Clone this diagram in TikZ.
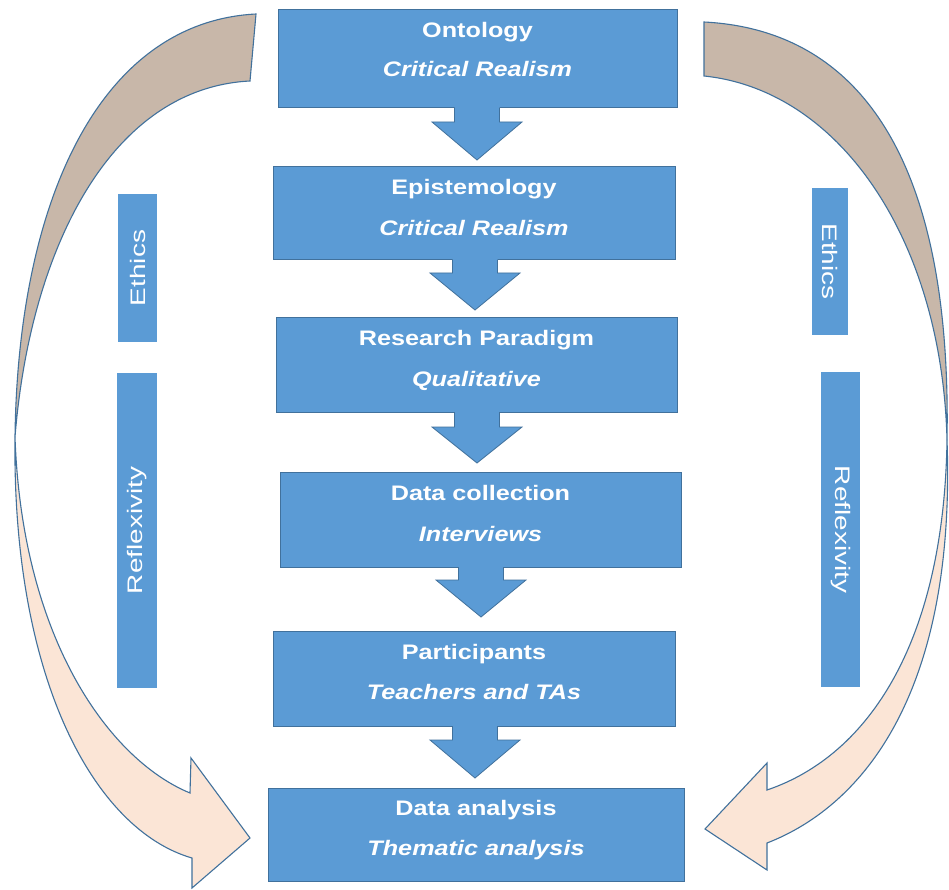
\documentclass[tikz,border=0pt]{standalone}
\usepackage{graphicx}
\usepackage{fontspec}
\setmainfont{Liberation Sans}
\usetikzlibrary{calc}
\definecolor{boxblue}{HTML}{5B9BD5}
\definecolor{boxedge}{HTML}{41719C}
\definecolor{arrtan}{HTML}{C8B7A9}
\definecolor{arrpeach}{HTML}{FBE5D6}
\newcommand\xstr[1]{\scalebox{1.2}[1]{#1}}
\newcommand\sstr[1]{\scalebox{1.33}[1]{#1}}
\newcommand\blockarrow[4]{%
  \fill[boxblue] (#1-22.5,#2-1) -- (#1-22.5,#3) -- (#1-45,#3) -- (#1,#4) -- (#1+45,#3) -- (#1+22.5,#3) -- (#1+22.5,#2-1) -- cycle;
  \draw[arredge] (#1-22.5,#2) -- (#1-22.5,#3) -- (#1-45,#3) -- (#1,#4) -- (#1+45,#3) -- (#1+22.5,#3) -- (#1+22.5,#2);}
\tikzset{
  mainbox/.style={draw=boxedge, line width=1pt, fill=boxblue, inner sep=0pt, outer sep=0pt},
  sidebox/.style={fill=boxblue, inner sep=0pt, outer sep=0pt},
  titletext/.style={text=white, font=\fontsize{21}{21}\selectfont\bfseries, inner sep=0pt, anchor=base},
  subtext/.style={text=white, font=\fontsize{21}{21}\selectfont\bfseries\itshape, inner sep=0pt, anchor=base},
  sidetext/.style={text=white, font=\fontsize{21}{21}\selectfont, inner sep=0pt},
  arredge/.style={draw=boxedge, line width=0.8pt, line join=miter},
  curvedge/.style={draw=boxedge, line width=1.1pt, line join=miter}
}
\begin{document}
\begin{tikzpicture}[x=1pt,y=-1pt]
\useasboundingbox[fill=white] (0,0) rectangle (949,890);

% curved arrows (left)
\filldraw[curvedge, fill=arrtan] (256,14) .. controls (100,22) and (18,200) .. (15,437)
   .. controls (30,250) and (110,88) .. (250,81) -- cycle;
\filldraw[curvedge, fill=arrpeach] (15,437) .. controls (12,680) and (95,830) .. (192,858)
   -- (192,888) -- (250,838) -- (191,758) -- (190,793)
   .. controls (110,760) and (22,640) .. (15,437) -- cycle;
% curved arrows (right)
\filldraw[curvedge, fill=arrtan] (704,22) .. controls (860,30) and (952,160) .. (947,440)
   .. controls (942,240) and (840,90) .. (704,76) -- cycle;
\filldraw[curvedge, fill=arrpeach] (947,440) .. controls (956,690) and (865,805) .. (767,843)
   -- (767,870) -- (705,829) -- (767,763) -- (767,790)
   .. controls (870,755) and (944,640) .. (947,440) -- cycle;

% main boxes
\node[mainbox, minimum width=399pt, minimum height=98pt] (b1) at (477.5,59) {};
\node[mainbox, minimum width=402pt, minimum height=93pt] (b2) at (474,213.5) {};
\node[mainbox, minimum width=401pt, minimum height=95pt] (b3) at (476.5,364.5) {};
\node[mainbox, minimum width=401pt, minimum height=95pt] (b4) at (480.5,519.5) {};
\node[mainbox, minimum width=402pt, minimum height=95pt] (b5) at (474,678.5) {};
\node[mainbox, minimum width=416pt, minimum height=93pt] (b6) at (476,834.5) {};

% block arrows between boxes
\blockarrow{477}{108}{122}{160}
\blockarrow{475}{260}{273}{310}
\blockarrow{477}{412}{427}{463}
\blockarrow{481}{567}{580}{617}
\blockarrow{475}{726}{740}{778}

% texts
\node[titletext] (t1) at ($(b1.north)+(0,28)$) {\xstr{Ontology}};
\node[subtext]   (s1) at ($(b1.north)+(0,67)$) {\xstr{Critical Realism}};
\node[titletext] (t2) at ($(b2.north)+(0,28)$) {\xstr{Epistemology}};
\node[subtext]   (s2) at ($(b2.north)+(0,69)$) {\xstr{Critical Realism}};
\node[titletext] (t3) at ($(b3.north)+(0,28)$) {\xstr{Research Paradigm}};
\node[subtext]   (s3) at ($(b3.north)+(0,69)$) {\xstr{Qualitative}};
\node[titletext] (t4) at ($(b4.north)+(0,28)$) {\xstr{Data collection}};
\node[subtext]   (s4) at ($(b4.north)+(0,69)$) {\xstr{Interviews}};
\node[titletext] (t5) at ($(b5.north)+(0,28)$) {\xstr{Participants}};
\node[subtext]   (s5) at ($(b5.north)+(0,68)$) {\xstr{Teachers and TAs}};
\node[titletext] (t6) at ($(b6.north)+(0,27)$) {\xstr{Data analysis}};
\node[subtext]   (s6) at ($(b6.north)+(0,67)$) {\xstr{Thematic analysis}};

% side boxes
\node[sidebox, minimum width=39pt, minimum height=148pt] (eL) at (137.5,268) {};
\node[sidebox, minimum width=40pt, minimum height=315pt] (rL) at (137,530.5) {};
\node[sidebox, minimum width=36pt, minimum height=147pt] (eR) at (830,261.5) {};
\node[sidebox, minimum width=39pt, minimum height=315pt] (rR) at (840.5,529.5) {};
\node[sidetext, rotate=90]  (eLt) at (eL.center) {\sstr{Ethics}};
\node[sidetext, rotate=90]  (rLt) at (rL.center) {\sstr{Reflexivity}};
\node[sidetext, rotate=-90] (eRt) at (eR.center) {\sstr{Ethics}};
\node[sidetext, rotate=-90] (rRt) at (rR.center) {\sstr{Reflexivity}};
\end{tikzpicture}
\end{document}
